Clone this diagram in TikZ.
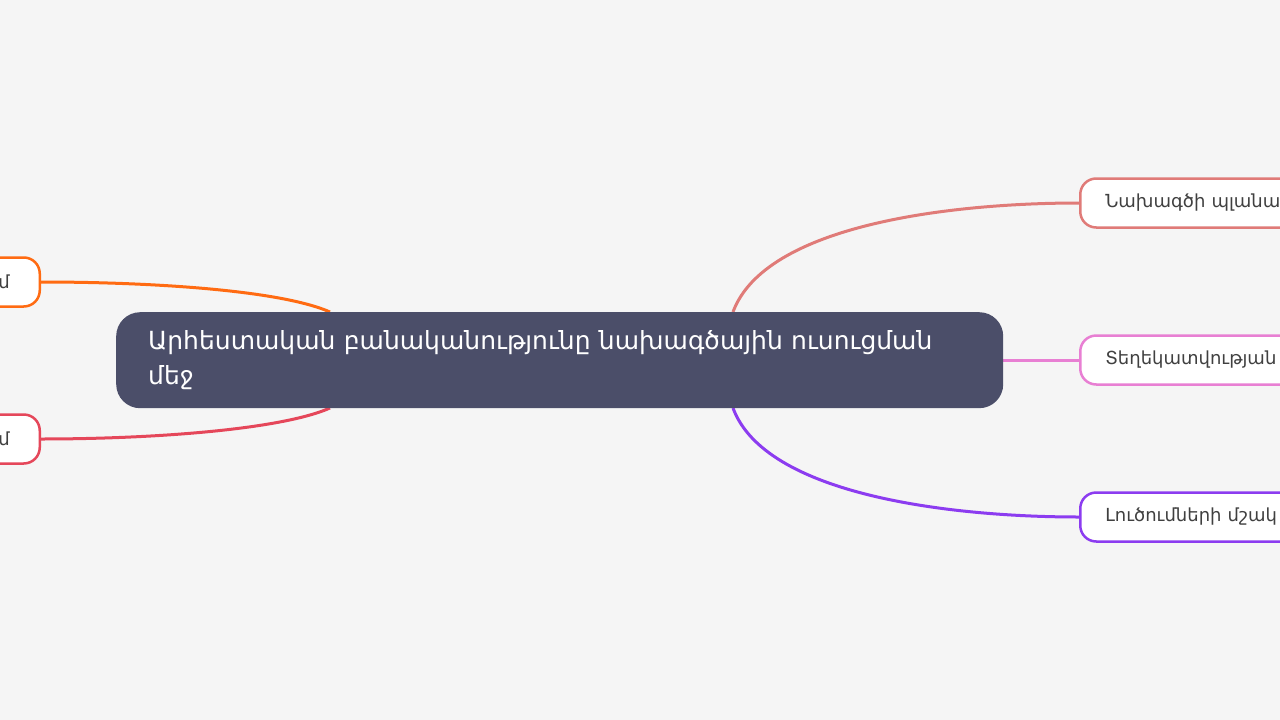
\documentclass[tikz,border=0pt]{standalone}
\usepackage{fontspec}
\setmainfont{DejaVu Sans}
\definecolor{bg}{HTML}{F5F5F5}
\definecolor{central}{HTML}{4B4E69}
\definecolor{cA}{HTML}{E07B78}
\definecolor{cB}{HTML}{E87FD3}
\definecolor{cC}{HTML}{8C3CF0}
\definecolor{cD}{HTML}{FF6B12}
\definecolor{cE}{HTML}{E5475A}
\tikzset{
  conn/.style={line width=3pt},
  leaf/.style={draw, line width=2.5pt, fill=white, rounded corners=16pt, minimum height=49pt, inner xsep=0pt, font=\fontsize{18}{22}\selectfont, text=black!75},
}
\begin{document}
\begin{tikzpicture}[x=1pt,y=-1pt]
\fill[bg] (0,0) rectangle (1280,720);
\useasboundingbox (0,0) rectangle (1280,720);
% coordinates on central node
\coordinate (ctr) at (733,312);
\coordinate (cbr) at (733,408);
\coordinate (cmr) at (1003,360);
\coordinate (ctl) at (330,312);
\coordinate (cbl) at (330,408);
% leaves
\node[leaf, draw=cA, anchor=west, minimum width=260pt, text width=250pt, align=left] (r1) at (1079,203) {\hspace*{20pt}Նախագծի պլանա};
\node[leaf, draw=cB, anchor=west, minimum width=260pt, text width=250pt, align=left] (r2) at (1079,360) {\hspace*{20pt}Տեղեկատվության};
\node[leaf, draw=cC, anchor=west, minimum width=260pt, text width=250pt, align=left] (r3) at (1079,517) {\hspace*{20pt}Լուծումների մշակ};
\node[leaf, draw=cD, anchor=east, minimum width=120pt, text width=120pt, align=right] (l1) at (41,282) {մ\hspace*{30pt}};
\node[leaf, draw=cE, anchor=east, minimum width=120pt, text width=120pt, align=right] (l2) at (41,439) {մ\hspace*{30pt}};
% connectors
\draw[conn, cA] (ctr) .. controls (765,225) and (950,203) .. (r1.west);
\draw[conn, cB] (cmr) -- (r2.west);
\draw[conn, cC] (cbr) .. controls (765,495) and (950,517) .. (r3.west);
\draw[conn, cD] (ctl) .. controls (280,290) and (150,282) .. (l1.east);
\draw[conn, cE] (cbl) .. controls (280,430) and (150,439) .. (l2.east);
% central node
\node[fill=central, rounded corners=24pt, anchor=north west, minimum width=887pt, minimum height=96pt, text width=823pt, inner xsep=32pt, align=left, text=white, font=\fontsize{25}{35}\selectfont] (c) at (116,312) {Արհեստական բանականությունը նախագծային ուսուցման\\մեջ};
\end{tikzpicture}
\end{document}
